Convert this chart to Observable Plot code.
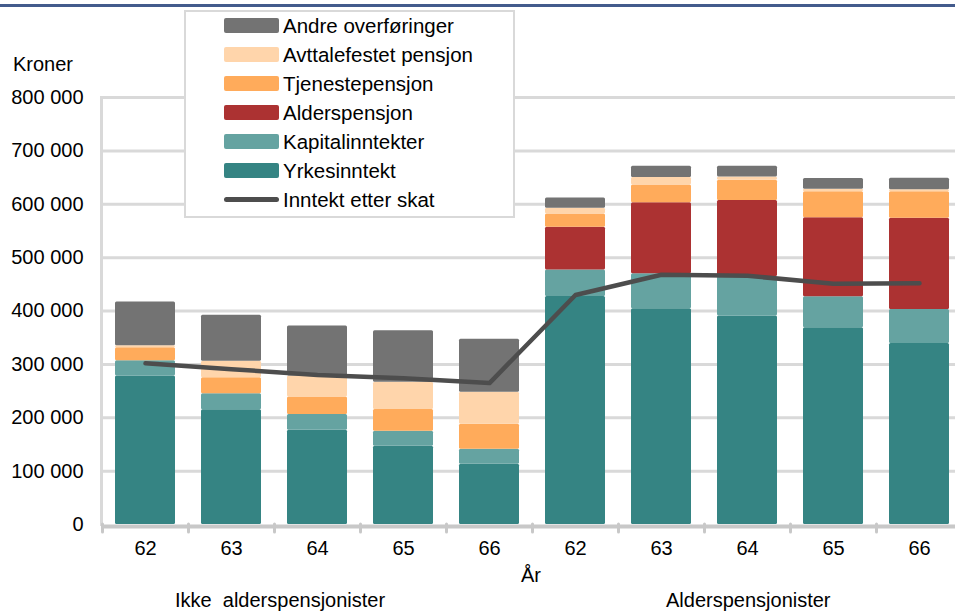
<!DOCTYPE html>
<html>
<head>
<meta charset="utf-8">
<script src="https://cdn.jsdelivr.net/npm/d3@7"></script>
<script src="https://cdn.jsdelivr.net/npm/@observablehq/plot@0.6"></script>
<style>
  html, body { margin: 0; padding: 0; background: #fff; }
  #wrap { position: relative; width: 955px; height: 611px; overflow: hidden; font-family: "Liberation Sans", Arial, sans-serif; color: #000; }
  #wrap svg { position: absolute; left: 0; top: 0; }
  .lbl { position: absolute; font-size: 20px; line-height: 20px; white-space: pre; }
  #topbar { position: absolute; left: 0; top: 4px; width: 955px; height: 3px; background: #435b8c; }
  #legend { position: absolute; left: 184px; top: 10px; width: 327px; height: 204px; border: 2px solid #d9d9d9; background: #fff; }
  .li { position: absolute; left: 38px; height: 20px; }
  .sw { position: absolute; left: 0; top: 2.5px; width: 55px; height: 15px; border-radius: 2px; }
  .ln { position: absolute; left: 0; top: 7.5px; width: 55px; height: 5px; border-radius: 3px; }
  .lt { position: absolute; left: 59px; top: 0; font-size: 20.5px; line-height: 20px; white-space: pre; }
</style>
</head>
<body>
<div id="wrap"></div>
<script>
// ---- data (kroner) ----
const groups = ["Ikke  alderspensjonister", "Alderspensjonister"];
const years = ["62", "63", "64", "65", "66"];
const seriesNames = ["Yrkesinntekt", "Kapitalinntekter", "Alderspensjon", "Tjenestepensjon", "Avttalefestet pensjon", "Andre overføringer"];
const seriesColors = ["#358483", "#65a3a1", "#ac3232", "#ffab5b", "#ffd5ab", "#737373"];
const lineName = "Inntekt etter skat";
const lineColor = "#4d4d4d";
// values in thousand kroner, order: Ikke 62..66, Alders 62..66
const yrkesinntekt      = [278, 215, 176.5, 146.5, 113,   427, 404, 390.6, 368.7, 339];
const kapitalinntekter  = [29, 30, 29.5, 28, 28,          50, 66, 74, 58, 64];
const alderspensjon     = [0, 0, 0, 0, 0,                 80, 133, 142.5, 148, 171];
const tjenestepensjon   = [24, 30, 33, 41, 47,            24.5, 33, 38, 48.5, 49.5];
const avtalefestet      = [4, 31, 39, 51, 60,             11, 14, 6, 5, 3.5];
const andreOverforinger = [82, 86, 94, 96.5, 99,          19, 21, 20, 20, 21.5];
const inntektEtterSkatt = [302, 291, 280, 274, 265,       430, 468, 466, 451, 452];
const yTicks = [0, 100000, 200000, 300000, 400000, 500000, 600000, 700000, 800000];

// ---- build tables ----
const keys = [];
groups.forEach((g, gi) => years.forEach(yr => keys.push(gi + "-" + yr)));
const seriesValues = [yrkesinntekt, kapitalinntekter, alderspensjon, tjenestepensjon, avtalefestet, andreOverforinger];
const stacked = [];
seriesNames.forEach((s, si) => keys.forEach((k, i) => stacked.push({key: k, series: s, value: seriesValues[si][i] * 1000})));
const lineData = keys.map((k, i) => ({key: k, value: inntektEtterSkatt[i] * 1000}));

const fmt = d => d3.format(",")(d).replace(/,/g, " ");

const chart = Plot.plot({
  width: 955,
  height: 611,
  marginLeft: 101,
  marginRight: 0,
  marginTop: 97,
  marginBottom: 87,
  style: {fontFamily: "'Liberation Sans', Arial, sans-serif", fontSize: "20px", color: "#000", background: "transparent"},
  x: {domain: keys, range: [101.5, 962], paddingInner: 0.3, paddingOuter: 0.15, label: null},
  y: {domain: [0, 800000], label: null},
  color: {domain: seriesNames, range: seriesColors},
  marks: [
    Plot.ruleY(yTicks.slice(1), {stroke: "#d9d9d9", strokeWidth: 3}),
    Plot.axisY({ticks: yTicks, tickFormat: fmt, tickSize: 0, tickPadding: 18, fontSize: 20, fill: "#000", label: null}),
    Plot.ruleX(keys, {x: d => d, y1: 0, y2: -15000, dx: -43, stroke: "#c8c8c8", strokeWidth: 3, strokeLinecap: "round"}),
    Plot.barY(stacked, Plot.stackY({order: seriesNames}, {x: "key", y: "value", fill: "series", rx: 1.5})),
    Plot.ruleY([0], {stroke: "#c8c8c8", strokeWidth: 4, dy: 2}),
    Plot.axisX({tickFormat: d => d.split("-")[1], tickSize: 0, tickPadding: 16, fontSize: 20, fill: "#000", label: null}),
    Plot.line(lineData, {x: "key", y: "value", stroke: lineColor, strokeWidth: 4.5, strokeLinecap: "round", strokeLinejoin: "round"})
  ]
});

const wrap = document.getElementById("wrap");
wrap.appendChild(chart);
// y axis line
const axisLine = document.createElement("div");
axisLine.style.cssText = "position:absolute;left:100px;top:96px;width:3px;height:430px;background:#d9d9d9;";
wrap.insertBefore(axisLine, chart);

function addLabel(text, left, top, center) {
  const d = document.createElement("div");
  d.className = "lbl";
  d.textContent = text;
  d.style.top = top + "px";
  if (center) { d.style.left = left + "px"; d.style.transform = "translateX(-50%)"; }
  else d.style.left = left + "px";
  wrap.appendChild(d);
}
const tb = document.createElement("div"); tb.id = "topbar"; wrap.appendChild(tb);
addLabel("Kroner", 13, 54, false);
addLabel("År", 531, 565, true);
addLabel(groups[0], 175, 590, false);
addLabel(groups[1], 666, 590, false);

// legend
const leg = document.createElement("div"); leg.id = "legend"; wrap.appendChild(leg);
const legItems = seriesNames.map((s, i) => ({name: s, color: seriesColors[i], type: "sw"})).reverse();
legItems.push({name: lineName, color: lineColor, type: "ln"});
legItems.forEach((it, i) => {
  const row = document.createElement("div");
  row.className = "li";
  const c = 25.8 + 28.9 * i - 12; // center relative to legend inner top
  row.style.top = (c - 10) + "px";
  const sw = document.createElement("div"); sw.className = it.type; sw.style.background = it.color;
  const t = document.createElement("div"); t.className = "lt"; t.textContent = it.name; t.style.top = "0.5px";
  row.appendChild(sw); row.appendChild(t);
  leg.appendChild(row);
});
</script>
</body>
</html>
